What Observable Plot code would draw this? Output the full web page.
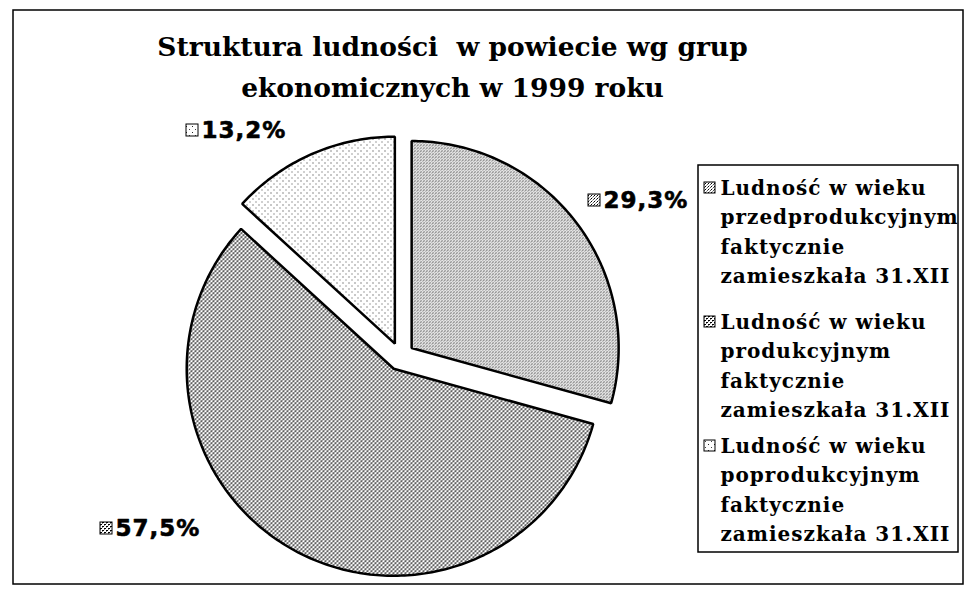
<!DOCTYPE html>
<html><head><meta charset="utf-8">
<script src="https://cdn.jsdelivr.net/npm/d3@7"></script>
<script src="https://cdn.jsdelivr.net/npm/@observablehq/plot@0.6"></script>
<style>body{margin:0;background:#fff} svg{display:block}</style>
</head><body><div id="chart"></div>
<script>
// ---- data ----
const categories = ["przedprodukcyjnym", "produkcyjnym", "poprodukcyjnym"];
const values = [29.3, 57.5, 13.2];
const valueLabels = ["29,3%", "57,5%", "13,2%"];
const legendTexts = [
  ["Ludność w wieku", "przedprodukcyjnym", "faktycznie", "zamieszkała 31.XII"],
  ["Ludność w wieku", "produkcyjnym", "faktycznie", "zamieszkała 31.XII"],
  ["Ludność w wieku", "poprodukcyjnym", "faktycznie", "zamieszkała 31.XII"]
];
const titleLines = ["Struktura ludności  w powiecie wg grup", "ekonomicznych w 1999 roku"];

// ---- layout ----
const W = 968, H = 596;
const cx = 400, cy = 356, R = 207, explode = 14;
const patterns = ["url(#p0)", "url(#p1)", "url(#p2)"];
const labelIcon = [[588, 194], [100, 522], [186, 124]]; // icon top-left per slice
const legendBox = {x1: 698, x2: 958, y1: 165, y2: 552};
const legendEntryY = [188, 322, 446];
const legendLineStep = 29.5;
const titleY = [47, 88];

// ---- geometry ----
const arcs = d3.pie().sort(null).value(d => d)(values);
const pt = (a, r, ox, oy) => ({x: ox + r * Math.sin(a), y: oy - r * Math.cos(a)});
const slices = arcs.map((a, i) => {
  const mid = (a.startAngle + a.endAngle) / 2;
  const ox = cx + explode * Math.sin(mid), oy = cy - explode * Math.cos(mid);
  const n = Math.max(8, Math.round((a.endAngle - a.startAngle) * 60));
  const pts = [{x: ox, y: oy, i}];
  for (let k = 0; k <= n; k++) {
    const t = a.startAngle + (a.endAngle - a.startAngle) * k / n;
    pts.push({...pt(t, R, ox, oy), i});
  }
  return pts;
});

const marks = [];
marks.push(Plot.rect([{x1: 13, x2: 963, y1: 10, y2: 584}], {x1: "x1", x2: "x2", y1: "y1", y2: "y2", fill: "none", stroke: "black", strokeWidth: 1.5}));
slices.forEach((pts, i) => {
  marks.push(Plot.line(pts, {x: "x", y: "y", fill: patterns[i], stroke: "black", strokeWidth: 2.5, curve: "linear-closed", strokeLinejoin: "miter"}));
});
// title
marks.push(Plot.text(titleLines, {x: () => 452, y: (d, i) => titleY[i], text: d => d, fontFamily: "DejaVu Serif", fontWeight: "bold", fontSize: 26.5, fill: "black"}));
// value labels
valueLabels.forEach((lab, i) => {
  const [ix, iy] = labelIcon[i];
  marks.push(Plot.rect([0], {x1: () => ix, x2: () => ix + 12, y1: () => iy, y2: () => iy + 12, fill: patterns[i], stroke: "black", strokeWidth: 1}));
  marks.push(Plot.text([lab], {x: () => ix + 15, y: () => iy + 6, text: d => d, textAnchor: "start", fontFamily: "DejaVu Sans", fontWeight: "bold", fontSize: 23, fill: "black", stroke: "black", strokeWidth: 0.6}));
});
// legend
marks.push(Plot.rect([legendBox], {x1: "x1", x2: "x2", y1: "y1", y2: "y2", fill: "white", stroke: "black", strokeWidth: 1.5}));
legendTexts.forEach((lines, i) => {
  const y0 = legendEntryY[i];
  marks.push(Plot.rect([0], {x1: () => 704, x2: () => 715, y1: () => y0 - 6, y2: () => y0 + 5, fill: patterns[i], stroke: "black", strokeWidth: 1}));
  marks.push(Plot.text(lines, {x: () => 720, y: (d, k) => y0 + k * legendLineStep, text: d => d, textAnchor: "start", fontFamily: "DejaVu Serif", fontWeight: "bold", fontSize: 20, fill: "black"}));
});

const chart = Plot.plot({
  width: W, height: H, margin: 0,
  x: {domain: [0, W], range: [0, W], axis: null},
  y: {domain: [0, H], range: [0, H], axis: null},
  style: {background: "white"},
  marks
});
chart.querySelectorAll("g[font-size='20'] text, text[font-size='20']").forEach(t => t.style.letterSpacing = "1px");
chart.querySelectorAll("g[font-size='23'] text, text[font-size='23']").forEach(t => t.style.letterSpacing = "1px");
chart.insertAdjacentHTML("afterbegin", `<defs>
<pattern id="p0" width="3" height="3" patternUnits="userSpaceOnUse">
 <rect width="3" height="3" fill="#fff"/><rect x="0" y="0" width="1" height="1" fill="#000"/>
 <rect x="2" y="1" width="1" height="1" fill="#555"/><rect x="1" y="2" width="1" height="1" fill="#999"/>
</pattern>
<pattern id="p1" width="4" height="4" patternUnits="userSpaceOnUse">
 <rect width="4" height="4" fill="#fff"/><rect x="0" y="0" width="2" height="1" fill="#000"/>
 <rect x="2" y="2" width="2" height="1" fill="#000"/><rect x="0" y="1" width="1" height="1" fill="#888"/>
 <rect x="2" y="3" width="1" height="1" fill="#888"/>
</pattern>
<pattern id="p2" width="6" height="6" patternUnits="userSpaceOnUse">
 <rect width="6" height="6" fill="#fff"/><rect x="0" y="0" width="1" height="1" fill="#222"/>
 <rect x="3" y="3" width="1" height="1" fill="#444"/>
</pattern></defs>`);
document.getElementById("chart").appendChild(chart);
</script></body></html>
